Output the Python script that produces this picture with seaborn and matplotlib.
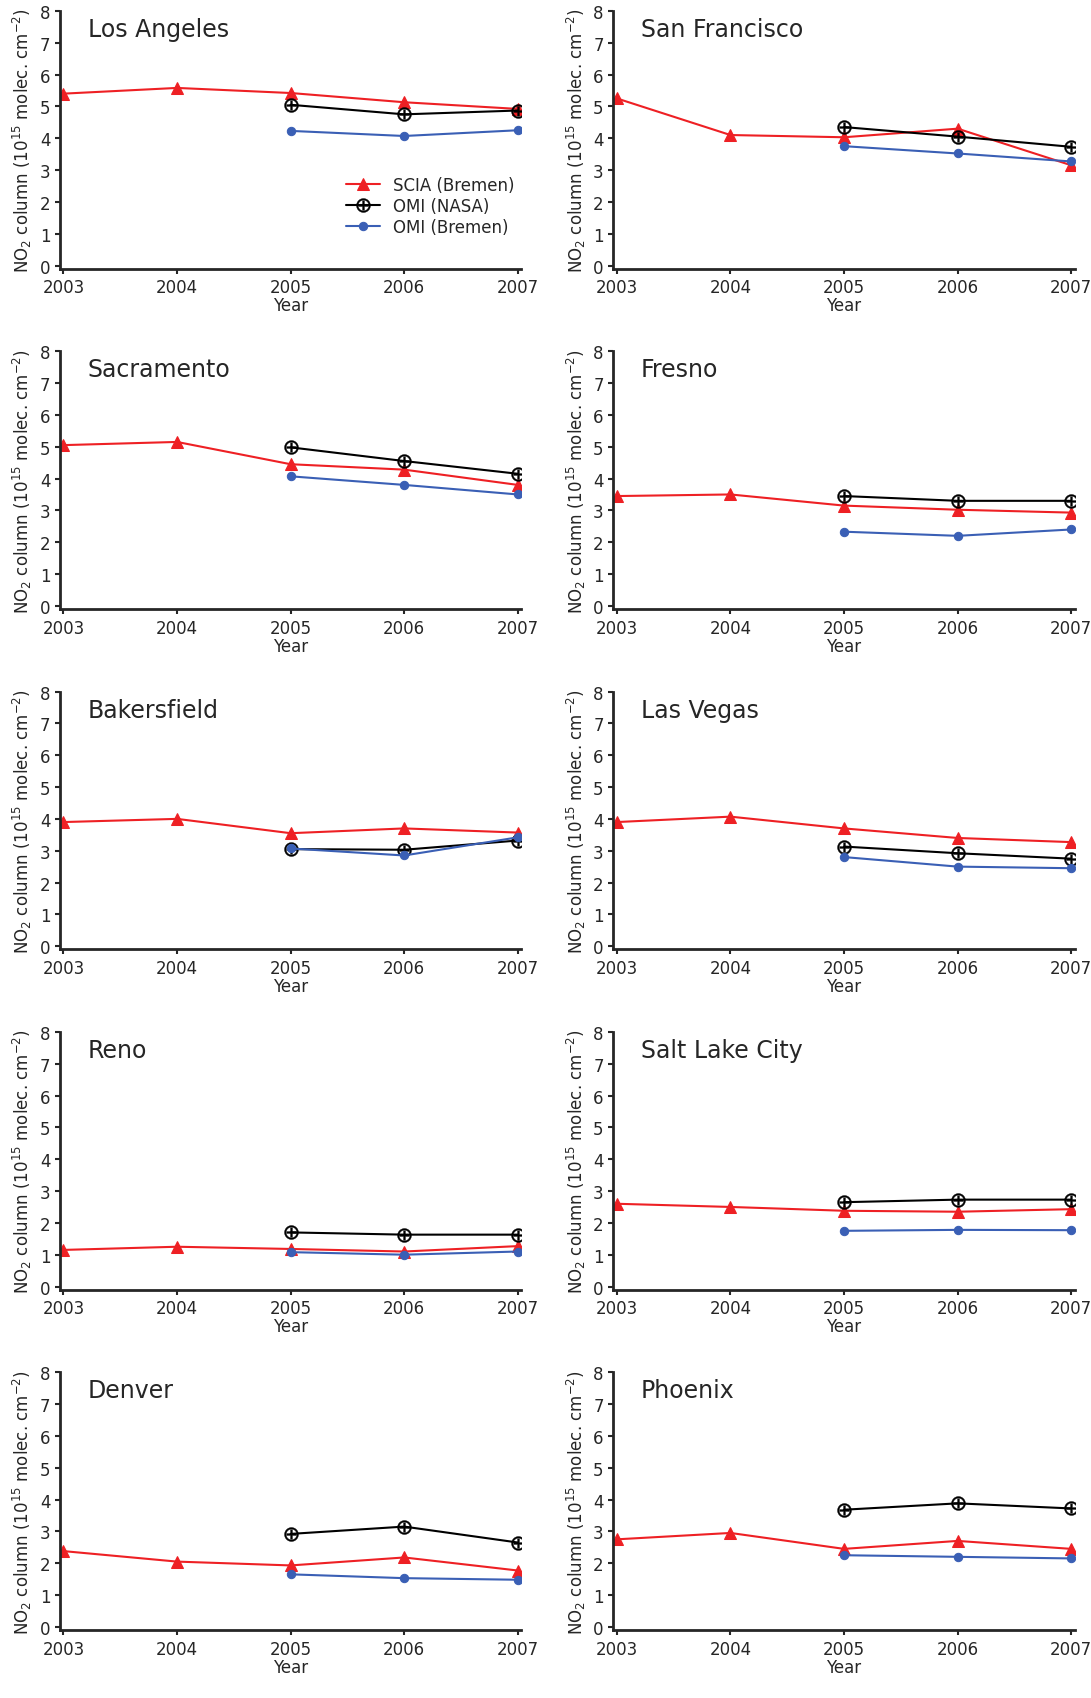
import matplotlib
matplotlib.use('Agg')
import matplotlib.pyplot as plt
import seaborn as sns
import pandas as pd

cities = ['Los Angeles', 'San Francisco', 'Sacramento', 'Fresno', 'Bakersfield',
          'Las Vegas', 'Reno', 'Salt Lake City', 'Denver', 'Phoenix']
years_scia = [2003, 2004, 2005, 2006, 2007]
years_omi = [2005, 2006, 2007]

scia = [
    [5.40, 5.58, 5.42, 5.13, 4.92],
    [5.25, 4.10, 4.03, 4.30, 3.15],
    [5.05, 5.15, 4.45, 4.28, 3.80],
    [3.45, 3.50, 3.15, 3.02, 2.93],
    [3.90, 4.00, 3.55, 3.70, 3.57],
    [3.90, 4.07, 3.70, 3.40, 3.27],
    [1.15, 1.25, 1.18, 1.10, 1.27],
    [2.60, 2.50, 2.38, 2.35, 2.43],
    [2.38, 2.05, 1.93, 2.18, 1.77],
    [2.75, 2.95, 2.45, 2.70, 2.45],
]
omi_nasa = [
    [5.05, 4.75, 4.87], [4.35, 4.05, 3.73], [4.98, 4.55, 4.15], [3.45, 3.30, 3.30],
    [3.05, 3.03, 3.32], [3.13, 2.92, 2.75], [1.70, 1.63, 1.63], [2.65, 2.73, 2.73],
    [2.92, 3.15, 2.65], [3.68, 3.88, 3.72],
]
omi_bremen = [
    [4.23, 4.07, 4.25], [3.75, 3.52, 3.27], [4.07, 3.80, 3.50], [2.33, 2.20, 2.40],
    [3.07, 2.85, 3.42], [2.80, 2.50, 2.45], [1.08, 1.00, 1.10], [1.75, 1.78, 1.77],
    [1.65, 1.53, 1.48], [2.25, 2.20, 2.15],
]

sns.set_style('ticks')
plt.rcParams['font.family'] = ['DejaVu Sans']

fig, axes = plt.subplots(5, 2, figsize=(10.91, 16.99))
fig.subplots_adjust(left=0.055, right=0.985, top=0.993, bottom=0.04, hspace=0.32, wspace=0.2)

for i, ax in enumerate(axes.flat):
    d1 = pd.DataFrame({'year': years_scia, 'v': scia[i]})
    d2 = pd.DataFrame({'year': years_omi, 'v': omi_nasa[i]})
    d3 = pd.DataFrame({'year': years_omi, 'v': omi_bremen[i]})
    sns.lineplot(data=d1, x='year', y='v', ax=ax, color='#ee2024', marker='^',
                 markersize=8, markeredgecolor='#ee2024', lw=1.5, label='SCIA (Bremen)')
    sns.lineplot(data=d2, x='year', y='v', ax=ax, color='black', marker=r'$\oplus$',
                 markersize=10, markerfacecolor='black', markeredgecolor='black',
                 markeredgewidth=0.3, lw=1.5, label='OMI (NASA)')
    sns.lineplot(data=d3, x='year', y='v', ax=ax, color='#3a5fb5', marker='o',
                 markersize=6, markeredgecolor='#3a5fb5', lw=1.5, label='OMI (Bremen)')
    ax.set_xlim(2002.97, 2007.03)
    ax.set_ylim(-0.1, 8)
    ax.set_yticks(range(9))
    ax.set_xticks(years_scia)
    ax.spines['top'].set_visible(False)
    ax.spines['right'].set_visible(False)
    ax.spines['left'].set_linewidth(2)
    ax.spines['bottom'].set_linewidth(2)
    ax.tick_params(labelsize=12, width=1.5)
    ax.set_xlabel('Year', fontsize=12, labelpad=0)
    ax.set_ylabel(r'NO$_2$ column (10$^{15}$ molec. cm$^{-2}$)', fontsize=12)
    ax.text(0.06, 0.93, cities[i], transform=ax.transAxes, fontsize=17, va='center')
    if i == 0:
        ax.legend(loc='lower right', bbox_to_anchor=(1.0, 0.1), frameon=False,
                  fontsize=12, handlelength=2, borderaxespad=0, labelspacing=0.2)
    else:
        ax.get_legend().remove()

fig.savefig('out.png', dpi=100)
